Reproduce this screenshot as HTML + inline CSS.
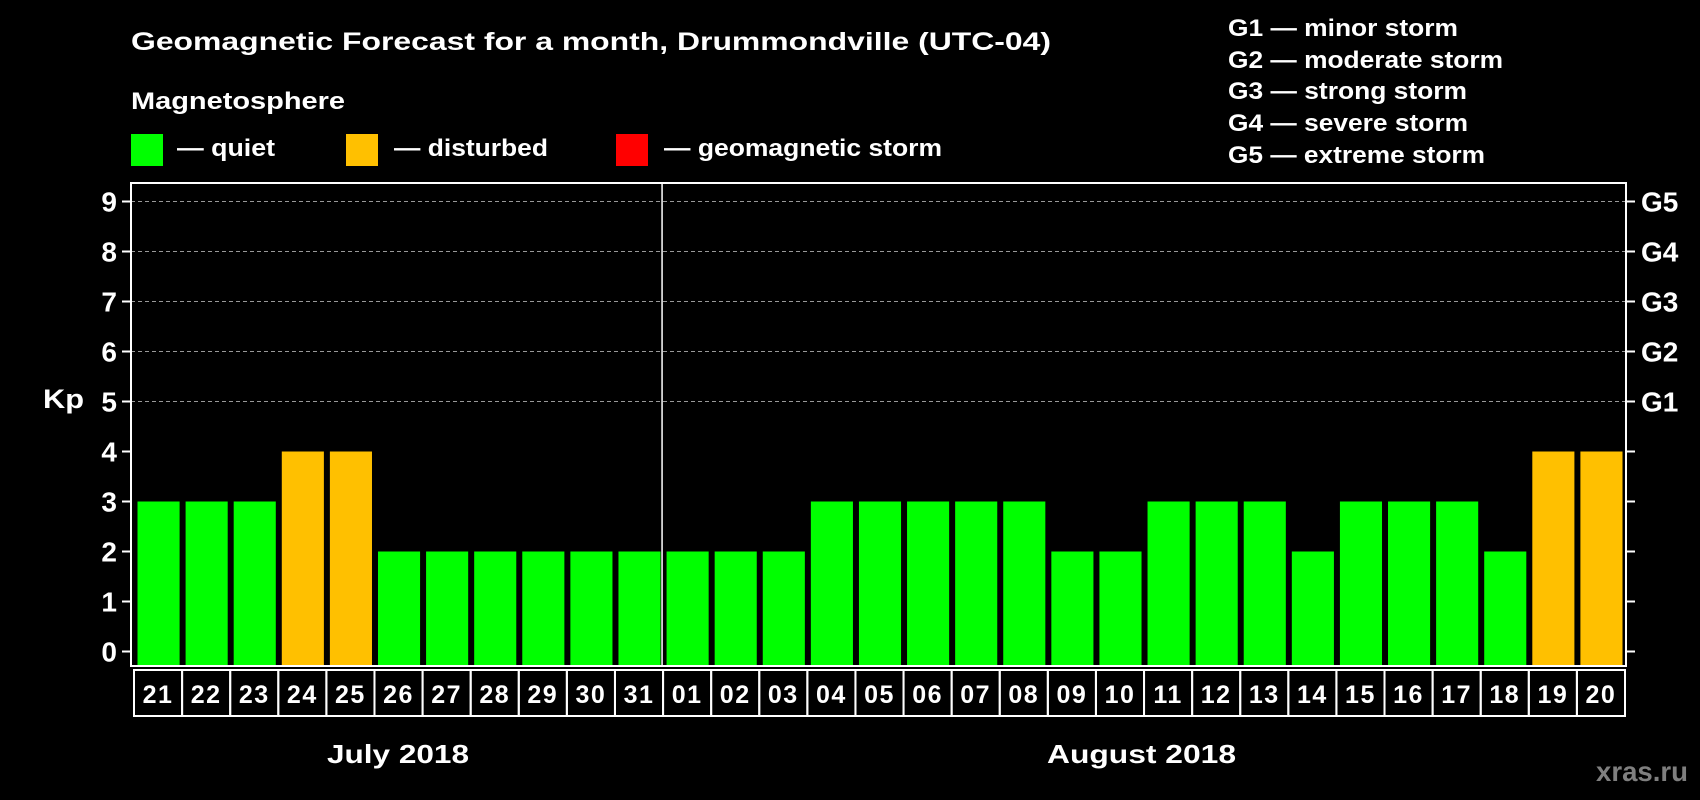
<!DOCTYPE html>
<html><head><meta charset="utf-8"><style>
html,body{margin:0;padding:0;background:#000;}
svg{display:block;font-family:"Liberation Sans",Arial,sans-serif;font-weight:bold;}
</style></head><body>
<svg id="c" width="1700" height="800" viewBox="0 0 1700 800" xmlns="http://www.w3.org/2000/svg">
<text x="131" y="50" fill="#fff" font-size="25" textLength="920" lengthAdjust="spacingAndGlyphs">Geomagnetic Forecast for a month, Drummondville (UTC-04)</text>
<text x="131" y="109" fill="#fff" font-size="24" textLength="214" lengthAdjust="spacingAndGlyphs">Magnetosphere</text>
<rect x="131" y="134" width="32" height="32" fill="#00ff00"/>
<text x="177" y="156" fill="#fff" font-size="24" textLength="98" lengthAdjust="spacingAndGlyphs">— quiet</text>
<rect x="346" y="134" width="32" height="32" fill="#ffc000"/>
<text x="394" y="156" fill="#fff" font-size="24" textLength="154" lengthAdjust="spacingAndGlyphs">— disturbed</text>
<rect x="616" y="134" width="32" height="32" fill="#ff0000"/>
<text x="664" y="156" fill="#fff" font-size="24" textLength="278" lengthAdjust="spacingAndGlyphs">— geomagnetic storm</text>
<g fill="#fff" font-size="24">
<text x="1228" y="36" textLength="230" lengthAdjust="spacingAndGlyphs">G1 — minor storm</text>
<text x="1228" y="68" textLength="275" lengthAdjust="spacingAndGlyphs">G2 — moderate storm</text>
<text x="1228" y="99" textLength="239" lengthAdjust="spacingAndGlyphs">G3 — strong storm</text>
<text x="1228" y="131" textLength="240" lengthAdjust="spacingAndGlyphs">G4 — severe storm</text>
<text x="1228" y="163" textLength="257" lengthAdjust="spacingAndGlyphs">G5 — extreme storm</text>
</g>
<text x="43" y="408" fill="#fff" font-size="27" textLength="41" lengthAdjust="spacingAndGlyphs">Kp</text>
<g id="plot"></g>
<text x="327" y="763" fill="#fff" font-size="26" textLength="142" lengthAdjust="spacingAndGlyphs">July 2018</text>
<text x="1047" y="763" fill="#fff" font-size="26" textLength="189" lengthAdjust="spacingAndGlyphs">August 2018</text>
<text x="1596" y="781" fill="#7f7f7f" font-size="28" textLength="92" lengthAdjust="spacingAndGlyphs">xras.ru</text>
</svg>
<script>
const days = ["21","22","23","24","25","26","27","28","29","30","31","01","02","03","04","05","06","07","08","09","10","11","12","13","14","15","16","17","18","19","20"];
const kpValues = [3,3,3,4,4,2,2,2,2,2,2,2,2,2,3,3,3,3,3,2,2,3,3,3,2,3,3,3,2,4,4];
const yTicks = [0,1,2,3,4,5,6,7,8,9];
const gLabels = ["","","","","","G1","G2","G3","G4","G5"];
const monthSplit = 11;

const NS = "http://www.w3.org/2000/svg";
const g = document.getElementById('plot');
const L = 131, R = 1626, T = 183, B = 666, x0 = 133, slot = (R - 2 - x0) / days.length;
const yS = v => 651.5 - v * 50;
const xS = i => x0 + i * slot;
function mk(tag, attrs) { const e = document.createElementNS(NS, tag); for (const k in attrs) e.setAttribute(k, attrs[k]); g.appendChild(e); return e; }

yTicks.forEach((v, i) => {
  if (v >= 5) {
    const gl = mk('line', {x1: L, x2: R, y1: yS(v), y2: yS(v), stroke: '#999', 'stroke-width': 1, 'stroke-dasharray': '4,3'});
    
    
  }
  const tl = mk('line', {x1: L - 9, x2: L, y1: yS(v), y2: yS(v), stroke: '#fff', 'stroke-width': 2});
  
  
  const tr = mk('line', {x1: R, x2: R + 9, y1: yS(v), y2: yS(v), stroke: '#fff', 'stroke-width': 2});
  
  
  const t = mk('text', {x: L - 14, y: yS(v) + 10, fill: '#fff', 'font-size': 28, 'text-anchor': 'end'});
  t.textContent = v;
  
  
  if (gLabels[i]) {
    const gt = mk('text', {x: 1641, y: yS(v) + 10, fill: '#fff', 'font-size': 28});
    gt.textContent = gLabels[i];
    
    
  }
});

kpValues.forEach((v, i) => {
  const b = mk('rect', {x: xS(i) + 4.5, y: yS(v), width: slot - 6, height: B - 1 - yS(v), fill: v >= 5 ? '#ff0000' : (v >= 4 ? '#ffc000' : '#00ff00')});
  
  
  const bx = mk('rect', {x: xS(i) + 1, y: 670, width: slot, height: 46, fill: 'none', stroke: '#fff', 'stroke-width': 2});
  
  
  const t = mk('text', {x: xS(i) + 1 + slot / 2, y: 703, fill: '#fff', 'font-size': 25, 'text-anchor': 'middle', 'letter-spacing': '1.5'});
  t.textContent = days[i];
  
  
});

const sep = mk('line', {x1: xS(monthSplit), x2: xS(monthSplit), y1: T, y2: B, stroke: '#fff', 'stroke-width': 1.5});


const fr = mk('rect', {x: L, y: T, width: R - L, height: B - T, fill: 'none', stroke: '#fff', 'stroke-width': 2});


</script>
</body></html>
